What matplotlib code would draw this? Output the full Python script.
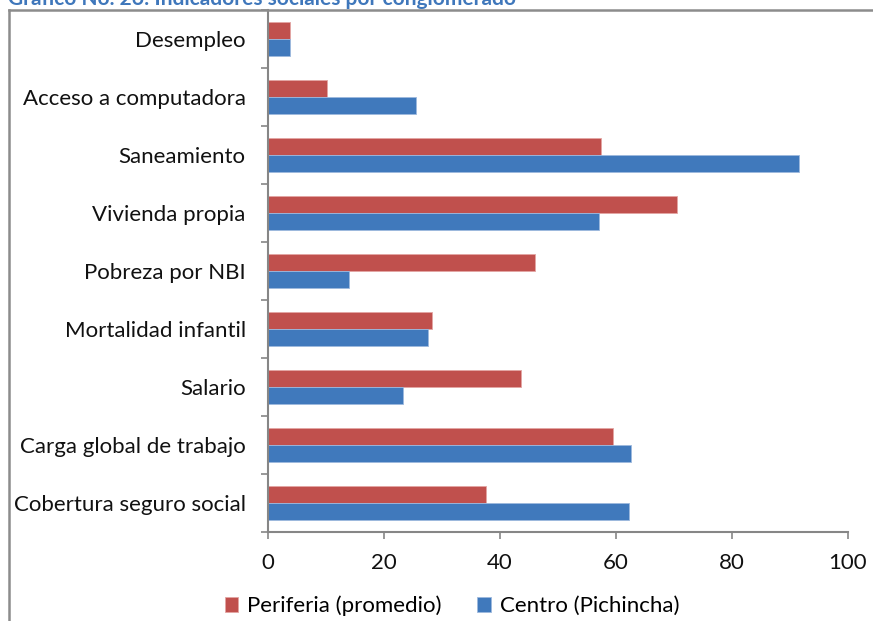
import numpy as np
import matplotlib.pyplot as plt
from matplotlib.lines import Line2D

# datos (de arriba hacia abajo)
categorias = ["Desempleo", "Acceso a computadora", "Saneamiento", "Vivienda propia",
              "Pobreza por NBI", "Mortalidad infantil", "Salario",
              "Carga global de trabajo", "Cobertura seguro social"]
periferia = [3.8, 10.1, 57.4, 70.5, 46.1, 28.2, 43.7, 59.5, 37.6]
centro = [3.8, 25.5, 91.6, 57.1, 14.0, 27.6, 23.2, 62.6, 62.2]
series = ["Periferia (promedio)", "Centro (Pichincha)"]
titulo = "Gráfico No. 26: Indicadores sociales por conglomerado"

rojo = "#C0504D"
azul = "#4079BC"
gris = "#868686"

plt.rcParams['font.family'] = ['Lato', 'DejaVu Sans']

fig = plt.figure(figsize=(8.73, 6.21), dpi=100)
ax = fig.add_axes([268/873, 1-532/621, 580/873, 522/621])

y = np.arange(len(categorias))
h = 0.285
ax.barh(y - h/2, periferia, height=h, color=rojo, edgecolor="#E3A5A3", linewidth=0.6, label=series[0])
ax.barh(y + h/2, centro, height=h, color=azul, edgecolor="#9DB9DE", linewidth=0.6, label=series[1])

ax.set_xlim(0, 100)
ax.set_ylim(len(categorias) - 0.5, -0.5)
ax.set_xticks([0, 20, 40, 60, 80, 100])
ax.set_yticks(y)
ax.set_yticklabels(categorias)
ax.set_yticks(np.arange(-0.5, len(categorias)), minor=True)
ax.tick_params(axis='y', which='major', length=0, pad=16, labelsize=16, labelcolor="#111111")
ax.tick_params(axis='y', which='minor', length=5, color=gris, width=1.2, direction='out')
ax.tick_params(axis='x', length=5, color=gris, width=1.2, pad=10, labelsize=16, labelcolor="#111111")

for s in ["top", "right"]:
    ax.spines[s].set_visible(False)
for s in ["left", "bottom"]:
    ax.spines[s].set_color(gris)
    ax.spines[s].set_linewidth(1.5)

# marco del grafico (recortado a la derecha y abajo)
fig.add_artist(Line2D([9/873, 1.0], [1-10/621, 1-10/621], color="#8C8C8C", lw=1.8))
fig.add_artist(Line2D([9/873, 9/873], [1-10/621, 0.0], color="#8C8C8C", lw=1.8))

# titulo cortado en la parte superior
fig.text(8/873, 1-5/621, titulo, color="#3F77BB", fontsize=15, fontweight="bold",
         ha="left", va="baseline")

ax.legend(loc="center", bbox_to_anchor=(452/873, 1-606/621), bbox_transform=fig.transFigure,
          ncol=2, frameon=False, fontsize=16, handlelength=0.6, handleheight=0.6,
          handletextpad=0.4, columnspacing=1.6)

fig.savefig("out.png", dpi=100)
